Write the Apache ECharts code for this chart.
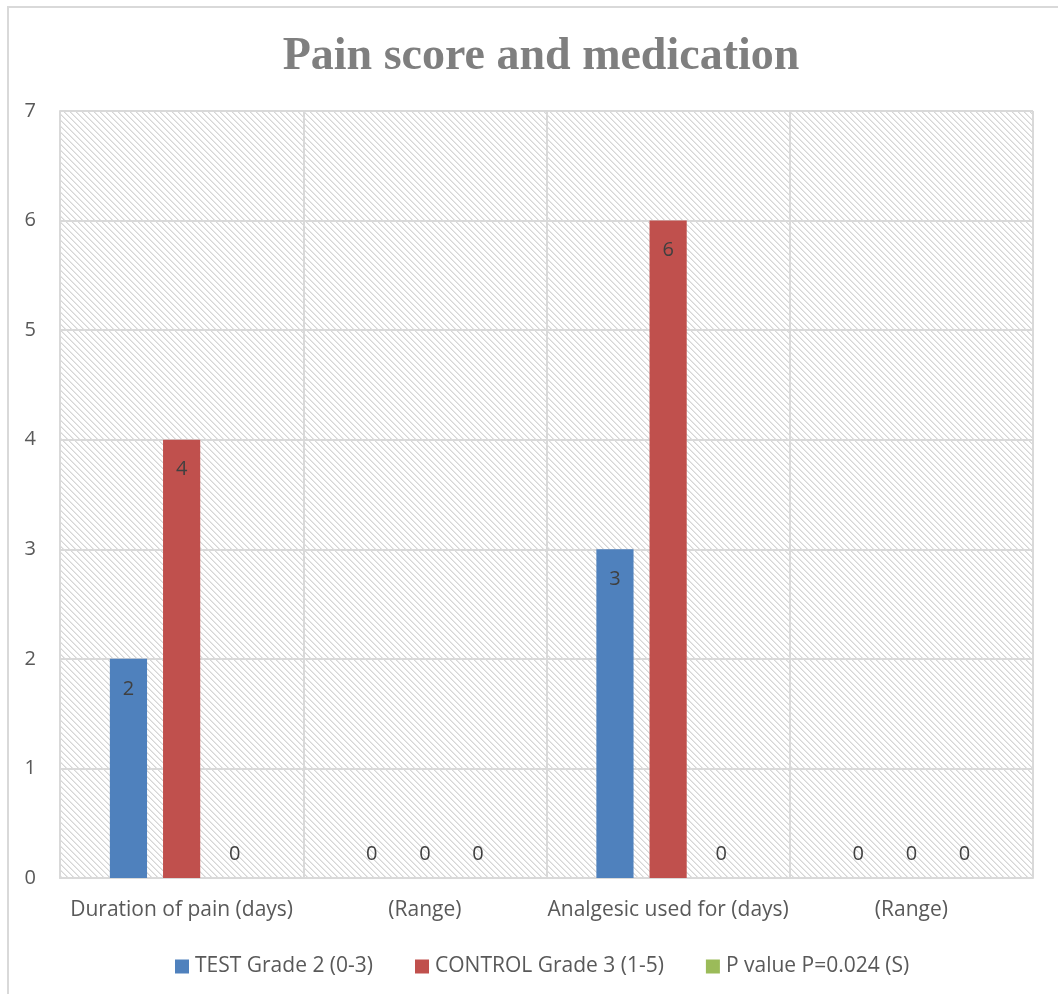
<!DOCTYPE html>
<html>
<head>
<meta charset="utf-8">
<script src="https://cdn.jsdelivr.net/npm/echarts@6/dist/echarts.min.js"></script>
<style>
  html, body { margin: 0; padding: 0; background: #fff; }
  #frame { position: absolute; left: 7px; top: 6px; width: 1100px; height: 1100px;
           border: 2px solid #d9d9d9; box-sizing: border-box; }
  #chart { position: absolute; left: 0; top: 0; width: 1058px; height: 994px; }
</style>
</head>
<body>
<div id="frame"></div>
<div id="chart"></div>
<script>
// Chart data
const categories = ['Duration of pain (days)', '(Range)', 'Analgesic used for (days)', '(Range)'];
const seriesNames = ['TEST Grade 2 (0-3)', 'CONTROL Grade 3 (1-5)', 'P value P=0.024 (S)'];
const testValues = [2, 0, 3, 0];
const controlValues = [4, 0, 6, 0];
const pValues = [0, 0, 0, 0];
const yTicks = { min: 0, max: 7, interval: 1 };

const colors = ['#4f81bd', '#c0504d', '#9bbb59'];

// Diagonal hatch tile used as the plot-area fill
function hatchTile() {
  const size = 6;
  const c = document.createElement('canvas');
  c.width = size; c.height = size;
  const ctx = c.getContext('2d');
  ctx.fillStyle = '#ffffff';
  ctx.fillRect(0, 0, size, size);
  for (let y = 0; y < size; y++) {
    for (let x = 0; x < size; x++) {
      const d = ((x - y) % size + size) % size;
      if (d === 0) { ctx.fillStyle = '#d6d6d6'; ctx.fillRect(x, y, 1, 1); }
      else if (d === 1) { ctx.fillStyle = '#e8e8e8'; ctx.fillRect(x, y, 1, 1); }
    }
  }
  return c;
}

function barData(values) {
  return values.map(v => ({
    value: v,
    label: v === 0 ? { position: 'top', distance: 14 } : { position: 'insideTop', distance: 20 }
  }));
}

const valueSets = [testValues, controlValues, pValues];
const textFont = 'Open Sans';

const chart = echarts.init(document.getElementById('chart'), null, { renderer: 'canvas' });
chart.setOption({
  animation: false,
  backgroundColor: 'transparent',
  title: {
    text: 'Pain score and medication',
    left: 536,
    textAlign: 'center',
    top: 29,
    textStyle: {
      fontFamily: 'Liberation Serif',
      fontWeight: 'bold',
      fontSize: 46,
      color: '#7f7f7f'
    }
  },
  legend: {
    bottom: 12,
    left: 170,
    itemWidth: 14,
    itemHeight: 14,
    itemGap: 42,
    icon: 'rect',
    textStyle: { fontFamily: textFont, fontSize: 21, color: '#595959', padding: [0, 0, 0, 1] },
    data: seriesNames
  },
  grid: {
    left: 60, right: 25, top: 111, bottom: 116,
    show: true,
    borderWidth: 0,
    backgroundColor: { image: hatchTile(), repeat: 'repeat' }
  },
  xAxis: {
    type: 'category',
    data: categories,
    axisLine: { show: true, lineStyle: { color: '#d9d9d9', width: 2 } },
    axisTick: { show: false },
    splitLine: { show: true, lineStyle: { color: '#d9d9d9', width: 2 } },
    axisLabel: { fontFamily: textFont, fontSize: 21, color: '#595959', margin: 22, interval: 0 }
  },
  yAxis: {
    type: 'value',
    min: yTicks.min, max: yTicks.max, interval: yTicks.interval,
    axisLine: { show: true, lineStyle: { color: '#d9d9d9', width: 2 } },
    axisTick: { show: false },
    splitLine: { show: true, lineStyle: { color: '#d9d9d9', width: 2 } },
    axisLabel: { fontFamily: textFont, fontSize: 20, color: '#595959', margin: 24 }
  },
  series: seriesNames.map((name, i) => ({
    name,
    type: 'bar',
    data: barData(valueSets[i]),
    barCategoryGap: '41%',
    barGap: '43%',
    itemStyle: { color: colors[i] },
    label: {
      show: true,
      fontFamily: textFont,
      fontSize: 20,
      color: '#404040'
    }
  }))
});
</script>
</body>
</html>
